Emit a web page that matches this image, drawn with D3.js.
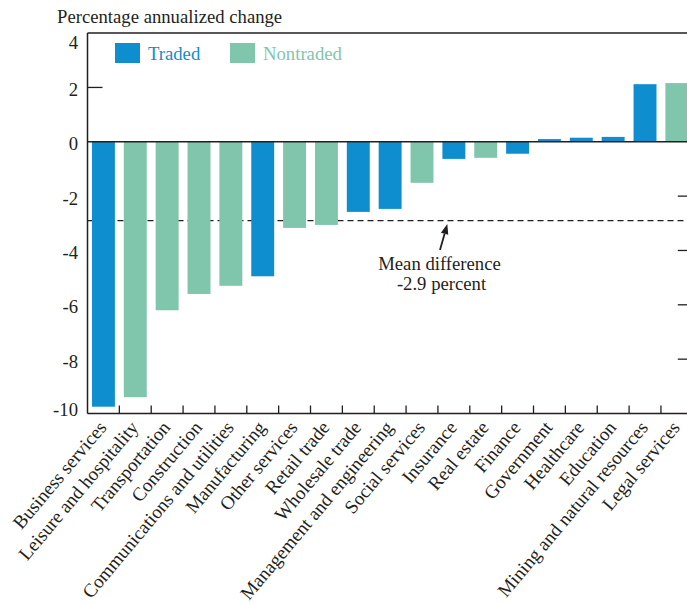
<!DOCTYPE html>
<html>
<head>
<meta charset="utf-8">
<script src="https://cdn.jsdelivr.net/npm/d3@7/dist/d3.min.js"></script>
<style>
  html, body { margin: 0; padding: 0; background: #fff; }
  svg { display: block; }
  text { font-family: "Liberation Serif", "Times New Roman", serif; fill: #231f20; }
</style>
</head>
<body>
<svg id="chart" width="687" height="605"></svg>
<script>
// ---- data ----
const categories = [
  "Business services", "Leisure and hospitality", "Transportation", "Construction",
  "Communications and utilities", "Manufacturing", "Other services", "Retail trade",
  "Wholesale trade", "Management and engineering", "Social services", "Insurance",
  "Real estate", "Finance", "Government", "Healthcare", "Education",
  "Mining and natural resources", "Legal services"
];
const values = [
  -9.75, -9.4, -6.2, -5.6, -5.3, -4.95, -3.17, -3.06, -2.58, -2.47, -1.51, -0.63,
  -0.59, -0.44, 0.1, 0.15, 0.18, 2.12, 2.16
];
const sectorType = [
  "Traded", "Nontraded", "Nontraded", "Nontraded", "Nontraded", "Traded", "Nontraded",
  "Nontraded", "Traded", "Traded", "Nontraded", "Traded", "Nontraded", "Traded",
  "Traded", "Traded", "Traded", "Traded", "Nontraded"
];
const legendLabels = ["Traded", "Nontraded"];
const yTicks = [4, 2, 0, -2, -4, -6, -8, -10];
const meanDifference = -2.9;
const yTitle = "Percentage annualized change";
const annotation = ["Mean difference", "-2.9 percent"];

// ---- layout ----
const svg = d3.select("#chart");
const pLeft = 87.5, pRight = 692.8, pTop = 33.1, pBottom = 413.5;
const colors = { "Traded": "#0f8ecf", "Nontraded": "#7fc6ad" };
const ink = "#231f20";

const x = d3.scaleBand().domain(categories).range([pLeft, pRight])
  .paddingInner(0.28).paddingOuter(0.14);
const y = d3.scaleLinear().domain([-10, 4]).range([pBottom, pTop]);

const data = categories.map((c, i) => ({ cat: c, val: values[i], type: sectorType[i] }));

// title
svg.append("text").attr("x", 57).attr("y", 22.5)
  .attr("font-size", 18.7).text(yTitle);

// y tick labels
svg.append("g").selectAll("text").data(yTicks).join("text")
  .attr("x", 78).attr("y", d => Math.min(Math.max(y(d) + 2, 42), 409))
  .attr("dy", "0.35em").attr("text-anchor", "end")
  .attr("font-size", 18.7).text(d => d);

// y inner ticks (left: above zero, right: all inner)
svg.append("g").selectAll("line").data(yTicks.filter(d => d > 0 && d < 4)).join("line")
  .attr("x1", pLeft).attr("x2", pLeft + 15).attr("y1", d => y(d)).attr("y2", d => y(d))
  .attr("stroke", ink).attr("stroke-width", 1.3);
svg.append("g").selectAll("line").data(yTicks.filter(d => d !== 0 && d < 4 && d > -10)).join("line")
  .attr("x1", pRight - 15).attr("x2", pRight).attr("y1", d => y(d)).attr("y2", d => y(d))
  .attr("stroke", ink).attr("stroke-width", 1.3);

// mean dashed line (behind bars)
svg.append("line")
  .attr("x1", pLeft).attr("x2", pRight)
  .attr("y1", y(meanDifference)).attr("y2", y(meanDifference))
  .attr("stroke", ink).attr("stroke-width", 1.2).attr("stroke-dasharray", "6,4");

// bars
svg.append("g").selectAll("rect").data(data).join("rect")
  .attr("x", d => x(d.cat)).attr("width", x.bandwidth())
  .attr("y", d => y(Math.max(0, d.val)))
  .attr("height", d => Math.abs(y(d.val) - y(0)))
  .attr("fill", d => colors[d.type]);

// frame: left axis, top line, bottom axis, zero line
svg.append("line").attr("x1", pLeft).attr("x2", pLeft).attr("y1", pTop).attr("y2", pBottom)
  .attr("stroke", ink).attr("stroke-width", 1.5);
svg.append("line").attr("x1", pLeft).attr("x2", pRight).attr("y1", pTop).attr("y2", pTop)
  .attr("stroke", ink).attr("stroke-width", 1.5);
svg.append("line").attr("x1", pLeft).attr("x2", pRight).attr("y1", pBottom).attr("y2", pBottom)
  .attr("stroke", ink).attr("stroke-width", 1.5);
svg.append("line").attr("x1", pLeft).attr("x2", pRight).attr("y1", y(0)).attr("y2", y(0))
  .attr("stroke", ink).attr("stroke-width", 1.6);

// x boundary ticks
const step = x.step();
svg.append("g").selectAll("line").data(categories.slice(1)).join("line")
  .attr("x1", d => x(d) - step * 0.14).attr("x2", d => x(d) - step * 0.14)
  .attr("y1", pBottom).attr("y2", pBottom - 8)
  .attr("stroke", ink).attr("stroke-width", 1.3);

// x labels
svg.append("g").selectAll("text").data(categories).join("text")
  .attr("transform", d => `translate(${x(d) + x.bandwidth() / 2 + 4},428) rotate(-50)`)
  .attr("text-anchor", "end").attr("font-size", 19).text(d => d);

// legend
const legX = [115, 230];
legendLabels.forEach((l, i) => {
  svg.append("rect").attr("x", legX[i]).attr("y", 43).attr("width", 25).attr("height", 20)
    .attr("fill", colors[l]);
  svg.append("text").attr("x", legX[i] + 33).attr("y", 60)
    .attr("font-size", 18.7).style("fill", colors[l]).text(l);
});

// annotation arrow
const tipX = 447.3, tipY = y(meanDifference) + 3.5;
const tailX = 440, tailY = 250;
const ang = Math.atan2(tipY - tailY, tipX - tailX);
const hl = 10, hw = 3.8;
const bx = tipX - hl * Math.cos(ang), by = tipY - hl * Math.sin(ang);
svg.append("line").attr("x1", tailX).attr("y1", tailY).attr("x2", bx).attr("y2", by)
  .attr("stroke", ink).attr("stroke-width", 1.8);
svg.append("path").attr("d",
  `M${tipX},${tipY} L${bx + hw * Math.sin(ang)},${by - hw * Math.cos(ang)} L${bx - hw * Math.sin(ang)},${by + hw * Math.cos(ang)} Z`)
  .attr("fill", ink);

svg.append("text").attr("x", 439.5).attr("y", 270).attr("text-anchor", "middle")
  .attr("font-size", 18.7).text(annotation[0]);
svg.append("text").attr("x", 441.5).attr("y", 290).attr("text-anchor", "middle")
  .attr("font-size", 18.7).text(annotation[1]);
</script>
</body>
</html>
